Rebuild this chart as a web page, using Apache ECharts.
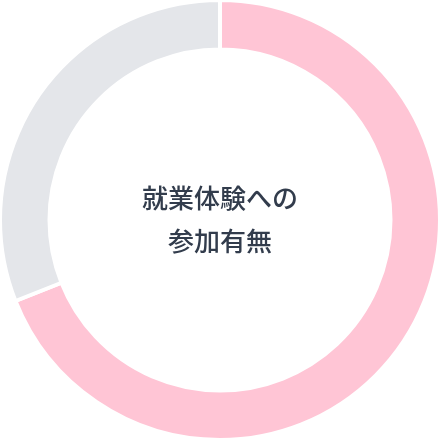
<!DOCTYPE html>
<html>
<head>
<meta charset="utf-8">
<script src="https://cdn.jsdelivr.net/npm/echarts@6/dist/echarts.min.js"></script>
<style>
  html, body { margin: 0; padding: 0; background: #fff; }
  #chart { width: 440px; height: 440px; }
</style>
</head>
<body>
<div id="chart"></div>
<script>
// participation in work experience: yes / no
var labels = ['参加した', '参加していない'];
var values = [69, 31];
var colors = ['#FFC5D5', '#E4E6EA'];

var myChart = echarts.init(document.getElementById('chart'));

var option = {
  animation: false,
  title: {
    text: '就業体験への\n参加有無',
    left: 'center',
    top: 'middle',
    textStyle: {
      fontFamily: 'Noto Sans CJK JP',
      fontSize: 26,
      fontWeight: 500,
      color: '#323c4c',
      lineHeight: 43
    }
  },
  series: [{
    type: 'pie',
    radius: ['77.5%', '100%'],
    center: ['50%', '50%'],
    startAngle: 90,
    clockwise: true,
    label: { show: false },
    labelLine: { show: false },
    itemStyle: { borderColor: '#fff', borderWidth: 4 },
    emphasis: { disabled: true },
    data: labels.map(function (name, i) {
      return { name: name, value: values[i], itemStyle: { color: colors[i] } };
    })
  }]
};

myChart.setOption(option);
</script>
</body>
</html>
